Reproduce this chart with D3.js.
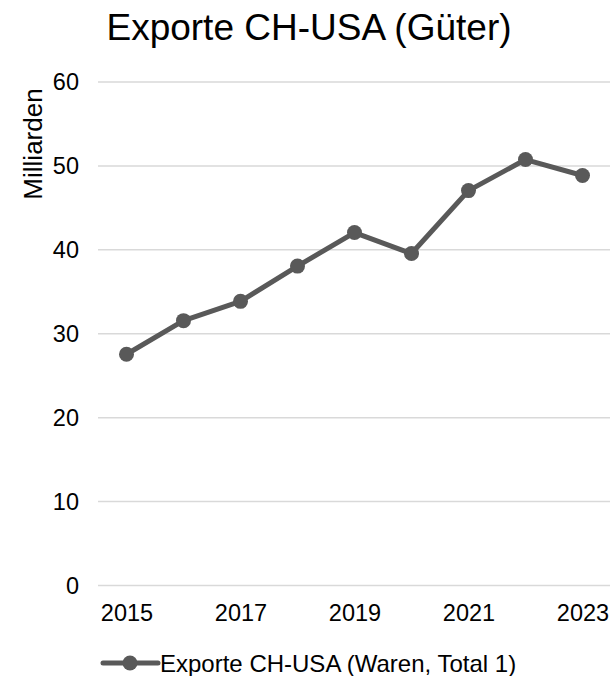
<!DOCTYPE html>
<html>
<head>
<meta charset="utf-8">
<script src="https://cdn.jsdelivr.net/npm/d3@7"></script>
<style>
  body { margin: 0; background: #fff; }
  svg { font-family: "Liberation Sans", Arial, sans-serif; }
</style>
</head>
<body>
<div id="chart"></div>
<script>
// data (Mrd.)
var years = ['2015', '2016', '2017', '2018', '2019', '2020', '2021', '2022', '2023'];
var exports = [27.5, 31.5, 33.8, 38.0, 42.0, 39.5, 47.0, 50.7, 48.8];
var yTicks = [0, 10, 20, 30, 40, 50, 60];
var xTickLabels = ['2015', '2017', '2019', '2021', '2023'];
var seriesName = 'Exporte CH-USA (Waren, Total 1)';

var width = 610;
var height = 676;
var plot = { left: 98, right: 611, top: 81.5, bottom: 585 };
var lineColor = '#595959';

var svg = d3.select('#chart').append('svg')
    .attr('width', width)
    .attr('height', height);

var x = d3.scalePoint()
    .domain(years)
    .range([plot.left, plot.right])
    .padding(0.5);

var y = d3.scaleLinear()
    .domain([0, 60])
    .range([plot.bottom, plot.top]);

// title
svg.append('text')
    .attr('x', 309)
    .attr('y', 40)
    .attr('text-anchor', 'middle')
    .style('font-size', '37px')
    .attr('fill', '#000')
    .text('Exporte CH-USA (Güter)');

// y axis: gridlines + labels
var yAxis = d3.axisLeft(y)
    .tickValues(yTicks)
    .tickSize(-(plot.right - plot.left))
    .tickPadding(19);

var gy = svg.append('g')
    .attr('transform', 'translate(' + plot.left + ',0)')
    .call(yAxis);
gy.select('.domain').remove();
gy.selectAll('.tick line')
    .attr('stroke', '#d9d9d9')
    .attr('stroke-width', 1.5);
gy.selectAll('.tick text')
    .style('font-size', '23.5px')
    .attr('fill', '#000')
    .attr('dy', '0.36em');

// x axis labels (every other year)
var xAxis = d3.axisBottom(x)
    .tickValues(xTickLabels)
    .tickSize(0)
    .tickPadding(19);

var gx = svg.append('g')
    .attr('transform', 'translate(0,' + plot.bottom + ')')
    .call(xAxis);
gx.select('.domain').remove();
gx.selectAll('.tick text')
    .style('font-size', '23.5px')
    .attr('fill', '#000');

// y axis title
svg.append('text')
    .attr('transform', 'translate(42,144) rotate(-90)')
    .attr('text-anchor', 'middle')
    .style('font-size', '26px')
    .attr('fill', '#000')
    .text('Milliarden');

// line
var line = d3.line()
    .x(function (d, i) { return x(years[i]); })
    .y(function (d) { return y(d); });

svg.append('path')
    .datum(exports)
    .attr('d', line)
    .attr('fill', 'none')
    .attr('stroke', lineColor)
    .attr('stroke-width', 5)
    .attr('stroke-linejoin', 'round');

svg.selectAll('.dot')
    .data(exports)
    .enter()
    .append('circle')
    .attr('class', 'dot')
    .attr('cx', function (d, i) { return x(years[i]); })
    .attr('cy', function (d) { return y(d); })
    .attr('r', 7.5)
    .attr('fill', lineColor);

// legend
var legend = svg.append('g').attr('transform', 'translate(0,663)');
legend.append('line')
    .attr('x1', 103).attr('x2', 158)
    .attr('y1', 0).attr('y2', 0)
    .attr('stroke', lineColor)
    .attr('stroke-width', 5)
    .attr('stroke-linecap', 'round');
legend.append('circle')
    .attr('cx', 130).attr('cy', 0)
    .attr('r', 7.5)
    .attr('fill', lineColor);
legend.append('text')
    .attr('x', 160)
    .attr('y', 8.5)
    .style('font-size', '24px')
    .attr('fill', '#000')
    .text(seriesName);
</script>
</body>
</html>
